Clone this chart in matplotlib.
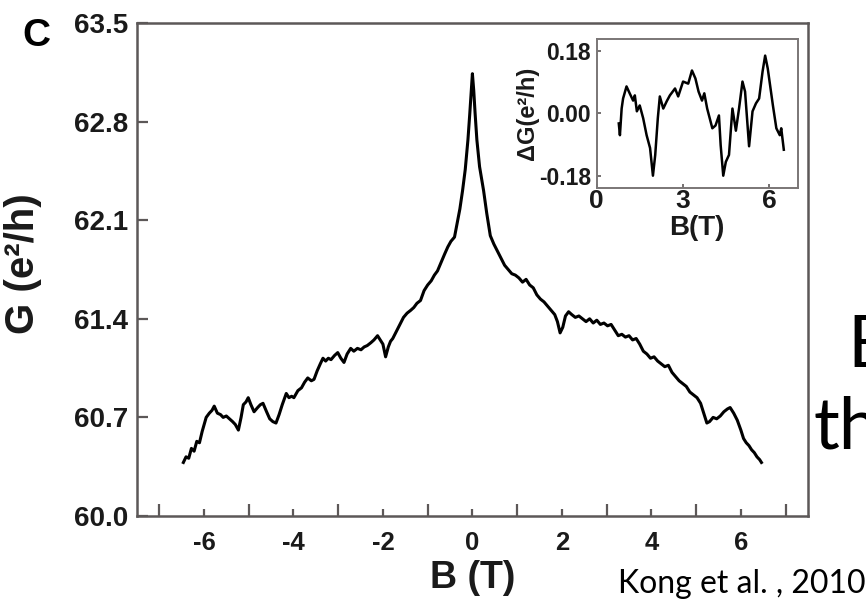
import matplotlib
matplotlib.use("Agg")
import matplotlib.pyplot as plt
from matplotlib.ticker import FixedLocator

# main trace: B (T) and G (e^2/h)
b_main = [-6.46, -6.40, -6.34, -6.28, -6.22, -6.16, -6.10, -6.04, -5.95, -5.88,
          -5.82, -5.77, -5.70, -5.63, -5.57, -5.50, -5.43, -5.36, -5.30, -5.23,
          -5.17, -5.12, -5.06, -5.01, -4.95, -4.88, -4.80, -4.74, -4.68, -4.60,
          -4.53, -4.46, -4.39, -4.32, -4.25, -4.16, -4.10, -4.04, -3.99, -3.90,
          -3.82, -3.75, -3.68, -3.60, -3.54, -3.47, -3.40, -3.34, -3.28, -3.22,
          -3.16, -3.08, -3.01, -2.94, -2.87, -2.80, -2.72, -2.65, -2.57, -2.49,
          -2.42, -2.35, -2.27, -2.20, -2.12, -2.06, -2.00, -1.94, -1.88, -1.83,
          -1.78, -1.70, -1.62, -1.54, -1.46, -1.38, -1.31, -1.24, -1.16, -1.08,
          -1.00, -0.92, -0.85, -0.78, -0.70, -0.62, -0.55, -0.48, -0.40, -0.34,
          -0.28, -0.22, -0.16, -0.10, -0.06, -0.03, 0.00,
          0.03, 0.06, 0.10, 0.16, 0.25, 0.32, 0.40, 0.48, 0.56, 0.64,
          0.72, 0.80, 0.88, 0.96, 1.04, 1.12, 1.20, 1.28, 1.36, 1.44,
          1.52, 1.60, 1.68, 1.76, 1.84, 1.90, 1.96, 2.02, 2.08, 2.15,
          2.22, 2.30, 2.38, 2.46, 2.54, 2.62, 2.70, 2.78, 2.86, 2.94,
          3.02, 3.10, 3.18, 3.26, 3.34, 3.42, 3.50, 3.58, 3.66, 3.74,
          3.82, 3.90, 3.98, 4.06, 4.14, 4.22, 4.30, 4.38, 4.46, 4.54,
          4.62, 4.70, 4.78, 4.86, 4.94, 5.02, 5.10, 5.18, 5.24, 5.30,
          5.38, 5.46, 5.54, 5.62, 5.70, 5.76, 5.84, 5.92, 6.00, 6.06,
          6.12, 6.18, 6.24, 6.30, 6.36, 6.42, 6.46]
g_main = [60.38, 60.42, 60.41, 60.48, 60.46, 60.53, 60.52, 60.60, 60.70, 60.73,
          60.75, 60.78, 60.73, 60.72, 60.70, 60.71, 60.69, 60.67, 60.65, 60.61,
          60.70, 60.79, 60.81, 60.84, 60.79, 60.74, 60.77, 60.79, 60.80, 60.74,
          60.69, 60.67, 60.66, 60.72, 60.79, 60.87, 60.84, 60.85, 60.84, 60.89,
          60.91, 60.95, 60.98, 60.96, 60.97, 61.03, 61.08, 61.12, 61.10, 61.12,
          61.11, 61.14, 61.16, 61.12, 61.09, 61.15, 61.19, 61.17, 61.19, 61.18,
          61.20, 61.21, 61.23, 61.25, 61.28, 61.25, 61.22, 61.13, 61.20, 61.24,
          61.26, 61.31, 61.36, 61.41, 61.44, 61.46, 61.48, 61.51, 61.53, 61.60,
          61.64, 61.67, 61.71, 61.74, 61.80, 61.86, 61.91, 61.95, 61.98, 62.08,
          62.18, 62.31, 62.46, 62.67, 62.85, 63.00, 63.14,
          63.02, 62.86, 62.67, 62.48, 62.31, 62.15, 61.99, 61.93, 61.88, 61.83,
          61.78, 61.75, 61.72, 61.71, 61.69, 61.66, 61.68, 61.64, 61.62, 61.57,
          61.54, 61.52, 61.49, 61.46, 61.43, 61.38, 61.30, 61.34, 61.42, 61.45,
          61.43, 61.41, 61.42, 61.40, 61.38, 61.40, 61.37, 61.39, 61.36, 61.37,
          61.35, 61.36, 61.32, 61.28, 61.29, 61.27, 61.28, 61.25, 61.26, 61.22,
          61.17, 61.15, 61.12, 61.13, 61.10, 61.08, 61.06, 61.07, 61.02, 60.99,
          60.96, 60.94, 60.92, 60.88, 60.86, 60.84, 60.80, 60.72, 60.66, 60.67,
          60.70, 60.69, 60.71, 60.74, 60.76, 60.77, 60.73, 60.68, 60.61, 60.55,
          60.52, 60.50, 60.47, 60.45, 60.42, 60.40, 60.38]

# inset: fluctuation part dG (e^2/h) vs B (T)
b_inset = [0.77, 0.81, 0.87, 0.92, 1.04, 1.15, 1.27, 1.33, 1.40, 1.50,
           1.62, 1.74, 1.86, 1.96, 2.04, 2.13, 2.20, 2.32, 2.44, 2.55,
           2.73, 2.84, 3.01, 3.19, 3.32, 3.44, 3.55, 3.67, 3.75, 3.85,
           4.03, 4.14, 4.26, 4.32, 4.41, 4.50, 4.61, 4.73, 4.85, 4.96,
           5.08, 5.17, 5.31, 5.43, 5.55, 5.66, 5.78, 5.87, 5.96, 6.14,
           6.26, 6.38, 6.43, 6.52]
dg_inset = [-0.029, -0.063, 0.014, 0.043, 0.078, 0.058, 0.037, 0.052, 0.006, 0.023,
            -0.014, -0.063, -0.100, -0.180, -0.120, -0.014, 0.049, 0.014, 0.035, 0.052,
            0.072, 0.049, 0.092, 0.086, 0.124, 0.101, 0.063, 0.037, 0.058, 0.014,
            -0.043, -0.035, -0.006, -0.092, -0.180, -0.140, -0.120, 0.014, -0.050, 0.014,
            0.092, 0.063, -0.095, 0.006, 0.029, 0.043, 0.121, 0.167, 0.130, 0.023,
            -0.043, -0.063, -0.043, -0.105]

y_ticks = [60.0, 60.7, 61.4, 62.1, 62.8, 63.5]
x_ticks = [-6, -4, -2, 0, 2, 4, 6]
x_minor = [-7, -5, -3, -1, 1, 3, 5, 7]
inset_yticks = [-0.18, 0.00, 0.18]
inset_xticks = [0, 3, 6]

plt.rcParams['font.family'] = ['Liberation Sans', 'DejaVu Sans']
spine_col = '#5c5858'

fig = plt.figure(figsize=(8.66, 6.0), dpi=100)
ax = fig.add_axes([0.158, 0.14, 0.775, 0.8217])
ax.plot(b_main, g_main, color='black', lw=2.2)
ax.set_xlim(-7.5, 7.5)
ax.set_ylim(60.0, 63.5)
ax.yaxis.set_major_locator(FixedLocator(y_ticks))
ax.set_yticklabels([f"{v:.1f}" for v in y_ticks])
ax.xaxis.set_major_locator(FixedLocator(x_ticks))
ax.xaxis.set_minor_locator(FixedLocator(x_minor))
ax.set_xticklabels([str(v) for v in x_ticks])
ax.tick_params(axis='y', direction='in', length=8, width=1.6, color=spine_col,
               labelsize=20, pad=6)
ax.tick_params(axis='x', which='major', direction='in', length=5, width=1.6,
               color=spine_col, labelsize=18.5, pad=11)
ax.tick_params(axis='x', which='minor', direction='in', length=9, width=1.6,
               color=spine_col)
for lab in ax.get_xticklabels() + ax.get_yticklabels():
    lab.set_fontweight('bold')
    lab.set_color('#1a1a1a')
for s in ax.spines.values():
    s.set_color(spine_col)
    s.set_linewidth(1.8)

fig.text(0.546, 0.037, "B (T)", fontsize=27, fontweight='bold', ha='center',
         va='center', color='#1a1a1a')
fig.text(0.027, 0.56, "G (e²/h)", fontsize=29, fontweight='bold', ha='center',
         va='center', rotation=90, color='#1a1a1a')
fig.text(0.042, 0.94, "C", fontsize=28, fontweight='bold', ha='center',
         va='center')

# inset
ins = fig.add_axes([0.689, 0.687, 0.232, 0.248])
ins.plot(b_inset, dg_inset, color='black', lw=1.8)
ins.set_xlim(0, 7)
ins.set_ylim(-0.215, 0.215)
ins.set_xticks(inset_xticks)
ins.set_yticks(inset_yticks)
ins.set_yticklabels([f"{v:.2f}" for v in inset_yticks])
ins.tick_params(axis='y', direction='in', length=3, width=1.2, color=spine_col,
                labelsize=16.5, pad=4)
ins.tick_params(axis='x', direction='in', length=3, width=1.2, color=spine_col,
                labelsize=19, pad=1)
for lab in ins.get_xticklabels() + ins.get_yticklabels():
    lab.set_fontweight('bold')
    lab.set_color('#1a1a1a')
ins.set_xlabel("B(T)", fontsize=20, fontweight='bold', labelpad=1,
               color='#1a1a1a')
ins.set_ylabel("ΔG(e²/h)", fontsize=17, fontweight='bold', labelpad=0,
               color='#1a1a1a')
for s in ins.spines.values():
    s.set_color('#7a7676')
    s.set_linewidth(1.4)

# slide text around the figure
fig.text(0.978, 0.388, "B", fontsize=52, family='Lato', ha='left', va='baseline')
fig.text(0.939, 0.253, "th", fontsize=52, family='Lato', ha='left', va='baseline')
fig.text(0.714, 0.012, "Kong et al. , 2010", fontsize=23, family='Lato',
         ha='left', va='baseline')

fig.savefig("out.png", dpi=100)
